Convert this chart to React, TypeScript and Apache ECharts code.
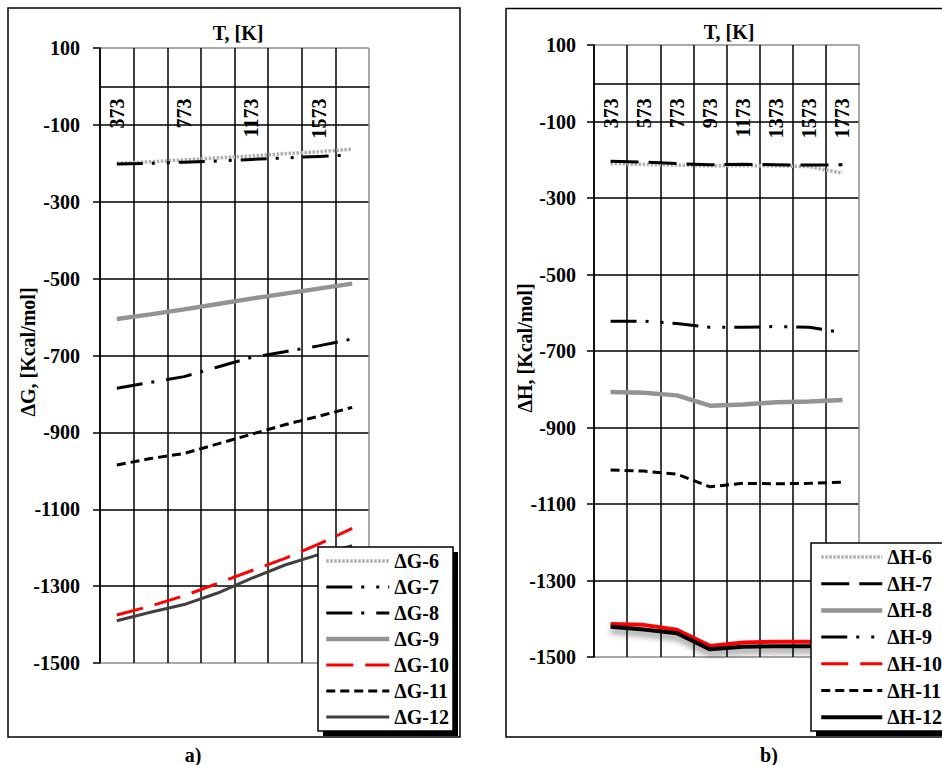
import React, { useEffect, useRef } from "react";
import * as echarts from "echarts";

const temperatures = ["373", "573", "773", "973", "1173", "1373", "1573", "1773"];

// Panel a) Gibbs energy
const dG6 = [-200, -196, -191, -186, -181, -175, -170, -163];
const dG7 = [-202, -200, -197, -194, -190, -186, -182, -178];
const dG8 = [-785, -770, -755, -730, -705, -690, -675, -657];
const dG9 = [-605, -593, -580, -566, -552, -539, -526, -513];
const dG10 = [-1375, -1352, -1325, -1293, -1260, -1228, -1191, -1150];
const dG11 = [-985, -968, -955, -930, -905, -880, -858, -835];
const dG12 = [-1390, -1368, -1348, -1318, -1280, -1245, -1218, -1195];

// Panel b) Enthalpy
const dH6 = [-210, -212, -214, -216, -216, -216, -218, -235];
const dH7 = [-204, -206, -210, -213, -212, -213, -214, -213];
const dH8 = [-807, -809, -816, -843, -840, -834, -832, -828];
const dH9 = [-622, -622, -628, -638, -638, -636, -638, -652];
const dH10 = [-1414, -1416, -1429, -1471, -1462, -1460, -1460, -1460];
const dH11 = [-1011, -1014, -1022, -1055, -1046, -1047, -1046, -1043];
const dH12 = [-1421, -1428, -1438, -1480, -1473, -1472, -1472, -1472];

const namesG = ["ΔG-6", "ΔG-7", "ΔG-8", "ΔG-9", "ΔG-10", "ΔG-11", "ΔG-12"];
const namesH = ["ΔH-6", "ΔH-7", "ΔH-8", "ΔH-9", "ΔH-10", "ΔH-11", "ΔH-12"];

const yMin = -1500;
const yMax = 100;
const yStep = 200;

const FONT = "'Liberation Serif', 'Times New Roman', serif";

export default function App() {
  const ref = useRef<HTMLDivElement>(null);

  useEffect(() => {
    if (!ref.current) return;
    const chart = echarts.init(ref.current, undefined, { renderer: "svg" });

    const yColors = ["#8c8c8c", "#000", "#000", "#000", "#000", "#000", "#000", "#000", "#8c8c8c"];
    const xColors = ["#000", "#000", "#000", "#000", "#000", "#000", "#000", "#000", "#8c8c8c"];

    const labelFont = { fontFamily: FONT, fontWeight: "bold" as const, fontSize: 20, color: "#000" };

    const grids = [
      { left: 100, top: 48, width: 269, height: 615 },
      { left: 594, top: 45, width: 265, height: 612 },
    ];

    // distance from grid bottom up to the value-zero line (axis crossing)
    const zeroOffset = (g: { height: number }) => -(g.height * (0 - yMin)) / (yMax - yMin);

    const mkX = (gi: number, interval: number, margin: number) => ({
      type: "category",
      gridIndex: gi,
      data: temperatures,
      boundaryGap: true,
      position: "bottom",
      offset: zeroOffset(grids[gi]),
      axisLine: { show: true, onZero: false, lineStyle: { color: "#000", width: 1.5 } },
      axisTick: { show: false },
      axisLabel: { ...labelFont, rotate: 90, interval, margin },
      splitLine: { show: true, interval: 0, lineStyle: { color: xColors, width: 1.5 } },
    });

    const mkY = (gi: number, margin: number) => ({
      type: "value",
      gridIndex: gi,
      min: yMin,
      max: yMax,
      interval: yStep,
      axisLine: { show: true, lineStyle: { color: "#000", width: 1.5 } },
      axisTick: { show: true, length: 7, lineStyle: { color: "#000", width: 1.5 } },
      axisLabel: { ...labelFont, margin, formatter: (v: number) => String(v) },
      splitLine: { show: true, lineStyle: { color: yColors, width: 1.5 } },
    });

    const line = (
      name: string,
      data: number[],
      gi: number,
      color: string,
      width: number,
      type: any,
      extra: any = {}
    ) => ({
      name,
      type: "line",
      xAxisIndex: gi,
      yAxisIndex: gi,
      data,
      symbol: "none",
      itemStyle: { color },
      lineStyle: { color, width, type, cap: "butt", ...extra },
      z: 3,
    });

    const dashDotDot = [26, 9, 3, 12, 3, 9];
    const dashDot = [26, 9, 3, 12];
    const longDash = [27, 12];
    const shortDash = [9, 5];
    const dots = [2.5, 1.5];

    const series = [
      line(namesG[0], dG6, 0, "#b0b0b0", 3.5, dots),
      line(namesG[1], dG7, 0, "#000", 3, dashDotDot),
      line(namesG[2], dG8, 0, "#000", 3, dashDot),
      line(namesG[3], dG9, 0, "#939393", 4.5, "solid"),
      line(namesG[4], dG10, 0, "#ff0000", 3, longDash),
      line(namesG[5], dG11, 0, "#000", 3, shortDash),
      line(namesG[6], dG12, 0, "#404040", 3, "solid"),
      line(namesH[0], dH6, 1, "#b0b0b0", 3.5, dots),
      line(namesH[1], dH7, 1, "#000", 3, [28, 10]),
      line(namesH[2], dH8, 1, "#939393", 4.5, "solid"),
      line(namesH[3], dH9, 1, "#000", 3, dashDotDot),
      line(namesH[4], dH10, 1, "#ff0000", 4, "solid"),
      line(namesH[5], dH11, 1, "#000", 3, shortDash),
      line(namesH[6], dH12, 1, "#000", 4, "solid", {
        shadowColor: "rgba(0,0,0,0.55)",
        shadowBlur: 6,
        shadowOffsetY: 4,
      }),
    ];

    const legendText = { fontFamily: FONT, fontWeight: "bold" as const, fontSize: 20, color: "#000" };
    const hiddenSymbol = { color: "rgba(0,0,0,0)", borderWidth: 0, opacity: 0 };

    const txt = (text: string, x: number, y: number, rotation = 0) => ({
      type: "text",
      x,
      y,
      rotation,
      z: 20,
      style: {
        text,
        fontFamily: FONT,
        fontWeight: "bold",
        fontSize: 20,
        fill: "#000",
        align: "center",
        verticalAlign: "middle",
        textAlign: "center",
        textVerticalAlign: "middle",
      },
    });

    const box = (x: number, y: number, w: number, h: number) => [
      {
        type: "rect",
        z: 9,
        shape: { x: x + 5, y: y + 5, width: w, height: h },
        style: { fill: "#000" },
      },
      {
        type: "rect",
        z: 10,
        shape: { x, y, width: w, height: h },
        style: { fill: "#fff", stroke: "#000", lineWidth: 1.5 },
      },
    ];

    chart.setOption({
      animation: false,
      backgroundColor: "#fff",
      grid: grids.map((g) => ({ ...g, containLabel: false })),
      xAxis: [mkX(0, 1, 12), mkX(1, 0, 15)],
      yAxis: [mkY(0, 20), mkY(1, 18)],
      legend: [
        {
          left: 318,
          top: 547,
          orient: "vertical",
          padding: [4, 4, 4, 6],
          itemWidth: 63,
          itemHeight: 14,
          itemGap: 6,
          selectedMode: false,
          textStyle: legendText,
          itemStyle: hiddenSymbol,
          lineStyle: { width: "inherit" },
          data: namesG,
          z: 12,
        },
        {
          left: 811,
          top: 543,
          orient: "vertical",
          padding: [4, 4, 4, 8],
          itemWidth: 61,
          itemHeight: 14,
          itemGap: 6.7,
          selectedMode: false,
          textStyle: legendText,
          itemStyle: hiddenSymbol,
          lineStyle: { width: "inherit" },
          data: namesH.map((n) =>
            n === "ΔH-10"
              ? { name: n, lineStyle: { type: longDash, width: 3 } }
              : { name: n }
          ),
          z: 12,
        },
      ],
      graphic: [
        {
          type: "rect",
          z: 1,
          shape: { x: 8, y: 8, width: 452, height: 729 },
          style: { fill: "none", stroke: "#000", lineWidth: 1.5 },
        },
        {
          type: "rect",
          z: 1,
          shape: { x: 506, y: 8.5, width: 500, height: 728.5 },
          style: { fill: "none", stroke: "#000", lineWidth: 1.5 },
        },
        ...box(318, 547, 135, 184),
        ...box(811, 543, 160, 188),
        txt("T, [K]", 238, 33),
        txt("T, [K]", 729, 32),
        txt("ΔG, [Kcal/mol]", 28, 352, Math.PI / 2),
        txt("ΔH, [Kcal/mol]", 525, 348, Math.PI / 2),
        txt("a)", 193, 755),
        txt("b)", 769, 755),
      ],
      series,
    });

    return () => chart.dispose();
  }, []);

  return (
    <div
      ref={ref}
      style={{ position: "fixed", left: 0, top: 0, width: 942, height: 765, background: "#fff" }}
    />
  );
}
